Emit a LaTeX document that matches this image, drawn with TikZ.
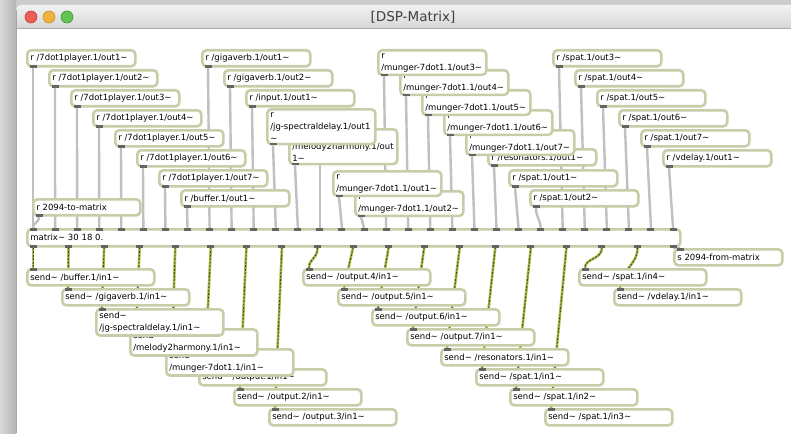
\documentclass[tikz,border=0pt]{standalone}
\usepackage{fontspec}
\setmainfont{DejaVu Sans}

\pgfdeclarelayer{frame}
\pgfdeclarelayer{cords}
\pgfsetlayers{frame,cords,main}

\definecolor{objborder}{RGB}{200,205,168}
\definecolor{nubgray}{RGB}{100,100,100}
\definecolor{cordgray}{RGB}{192,192,192}
\definecolor{sigyellow}{RGB}{165,192,62}

\hyphenpenalty=10000
\exhyphenpenalty=10000

\newcommand\tld{\textasciitilde}
% receive box: node + outlet at bottom left
\newcommand\recv[4][]{%
  \node[obj,#1] (#2) at (#3) {#4};
  \fill[nub] ([xshift=3.5pt]#2.south west) rectangle ++(7pt,2.5pt);}
% send box: node + inlet at top left
\newcommand\sendto[4][]{%
  \node[obj,wide,#1] (#2) at (#3) {#4};
  \fill[nub] ([xshift=3.5pt]#2.north west) rectangle ++(7pt,-2.5pt);}

\begin{document}
\begin{tikzpicture}
    [x=1pt,y=-1pt,
    obj/.style={draw=objborder, line width=2.6pt, fill=white, rounded corners=4pt,
      anchor=north west, inner xsep=3pt, inner ysep=3pt, minimum height=16pt,
      text width=102pt, align=left, font=\fontsize{8.5}{12}\selectfont},
    wide/.style={text width=121pt},
    nub/.style={fill=nubgray},
    cord/.style={draw=cordgray, line width=2.4pt},
    sigcord/.style={draw=sigyellow, line width=2.6pt,
      postaction={draw=black!75, line width=0.9pt, dash pattern=on 2pt off 1.5pt}}]
    \useasboundingbox (0,0) rectangle (791,433);

    % window
    \begin{pgfonlayer}{frame}
    \fill[gray!40] (0,0) rectangle (791,433);
    \shade[left color=gray!30, right color=gray!60] (0,0) rectangle (16,433);
    \fill[white] (16,28) rectangle (791,433);
    \shade[top color=gray!10, bottom color=gray!32]
      (16,28) [rounded corners=5pt] -- (16,5) -- (800,5) [sharp corners] -- (800,28) -- cycle;
    \draw[gray!65, line width=0.8pt] (16,28) -- (791,28);
    \draw[gray!70, line width=0.8pt] (16,10) -- (16,433);
    \end{pgfonlayer}
    \filldraw[fill={rgb,255:red,236;green,95;blue,87}, draw={rgb,255:red,200;green,60;blue,55}, line width=0.6pt] (31,17) circle (6pt);
    \filldraw[fill={rgb,255:red,240;green,180;blue,60}, draw={rgb,255:red,200;green,140;blue,40}, line width=0.6pt] (49,17) circle (6pt);
    \filldraw[fill={rgb,255:red,98;green,196;blue,80}, draw={rgb,255:red,60;green,150;blue,50}, line width=0.6pt] (67,17) circle (6pt);
    \node[font=\fontsize{13.5}{15}\selectfont, text=black!75] (title) at (413,17) {[DSP-Matrix]};

    % receive objects
    \recv{pl1}{26,49}{r /7dot1player.1/out1\tld}
    \recv{pl2}{48,69}{r /7dot1player.1/out2\tld}
    \recv{pl3}{70,89}{r /7dot1player.1/out3\tld}
    \recv{pl4}{92,109}{r /7dot1player.1/out4\tld}
    \recv{pl5}{114,129}{r /7dot1player.1/out5\tld}
    \recv{pl6}{136,149}{r /7dot1player.1/out6\tld}
    \recv{pl7}{158,169}{r /7dot1player.1/out7\tld}
    \recv{buf}{180,189}{r /buffer.1/out1\tld}
    \recv[text width=101pt]{ctl}{32,198}{r 2094-to-matrix}
    \recv{gv1}{201,49}{r /gigaverb.1/out1\tld}
    \recv{gv2}{223,69}{r /gigaverb.1/out2\tld}
    \recv{inp}{245,89}{r /input.1/out1\tld}
    \recv{mel}{288,128}{r\\/melody2harmony.1/out\\1\tld}
    \recv{jg}{266,108}{r\\/jg-spectraldelay.1/out1\\\tld}
    \recv{mu2}{354,190}{r\\/munger-7dot1.1/out2\tld}
    \recv{mu1}{332,170}{r\\/munger-7dot1.1/out1\tld}
    \recv{res}{487,148}{r /resonators.1/out1\tld}
    \recv{mu7}{465,129}{r\\/munger-7dot1.1/out7\tld}
    \recv{mu6}{443,109}{r\\/munger-7dot1.1/out6\tld}
    \recv{mu5}{421,89}{r\\/munger-7dot1.1/out5\tld}
    \recv{mu4}{399,69}{r\\/munger-7dot1.1/out4\tld}
    \recv{mu3}{377,49}{r\\/munger-7dot1.1/out3\tld}
    \recv{sp3}{552,49}{r /spat.1/out3\tld}
    \recv{sp4}{574,69}{r /spat.1/out4\tld}
    \recv{sp5}{596,89}{r /spat.1/out5\tld}
    \recv{sp6}{618,109}{r /spat.1/out6\tld}
    \recv{sp7}{640,129}{r /spat.1/out7\tld}
    \recv{vd}{662,149}{r /vdelay.1/out1\tld}
    \recv{sp1}{508,169}{r /spat.1/out1\tld}
    \recv{sp2}{529,189}{r /spat.1/out2\tld}

    % the matrix
    \node[obj, text width=647pt, minimum height=17pt] (mx) at (26,228) {matrix\tld{} 30 18 0.};
    \foreach \i in {0,...,29} {
      \coordinate (in\i) at ([xshift={7pt+22.07pt*\i}]mx.north west);
      \fill[nub] ([xshift=-3.5pt]in\i) rectangle ++(7pt,-2.5pt);
    }
    \foreach \j in {0,...,18} {
      \coordinate (out\j) at ([xshift={7pt+35.56pt*\j}]mx.south west);
      \fill[nub] ([xshift=-3.5pt]out\j) rectangle ++(7pt,2.5pt);
    }

    % send objects
    \sendto{so3}{268,408}{send\tld{} /output.3/in1\tld}
    \sendto{so2}{233,388}{send\tld{} /output.2/in1\tld}
    \sendto{so1}{198,368}{send\tld{} /output.1/in1\tld}
    \sendto{smu}{165,348}{send\tld\\/munger-7dot1.1/in1\tld}
    \sendto{smel}{129,328}{send\tld\\/melody2harmony.1/in1\tld}
    \sendto{sjg}{95,308}{send\tld\\/jg-spectraldelay.1/in1\tld}
    \sendto{sgv}{61,288}{send\tld{} /gigaverb.1/in1\tld}
    \sendto{sbuf}{26,268}{send\tld{} /buffer.1/in1\tld}
    \sendto{ssp3}{544,408}{send\tld{} /spat.1/in3\tld}
    \sendto{ssp2}{509,388}{send\tld{} /spat.1/in2\tld}
    \sendto{ssp1}{475,368}{send\tld{} /spat.1/in1\tld}
    \sendto{sres}{440,348}{send\tld{} /resonators.1/in1\tld}
    \sendto{so7}{406,328}{send\tld{} /output.7/in1\tld}
    \sendto{so6}{371,308}{send\tld{} /output.6/in1\tld}
    \sendto{so5}{337,288}{send\tld{} /output.5/in1\tld}
    \sendto{so4}{302,268}{send\tld{} /output.4/in1\tld}
    \sendto{svd}{613,288}{send\tld{} /vdelay.1/in1\tld}
    \sendto{ssp4}{578,268}{send\tld{} /spat.1/in4\tld}
    \sendto[text width=102pt]{back}{673,248}{s 2094-from-matrix}

    % patch cords
    \begin{pgfonlayer}{cords}
    \foreach \s/\k in {pl1/0,pl2/1,pl3/2,pl4/3,pl5/4,pl6/5,pl7/6,buf/7,gv1/8,gv2/9,
        inp/10,jg/11,mel/12,mu1/14,mu2/15,mu3/16,mu4/17,mu5/18,mu6/19,mu7/20,res/21,
        sp1/22,sp3/24,sp4/25,sp5/26,sp6/27,sp7/28,vd/29}
      \draw[cord] ([xshift=7pt]\s.south west) -- (in\k);
    \draw[cord] (mel.south -| in13) -- (in13);
    \draw[cord] ([xshift=7pt]sp2.south west) .. controls +(0,10) and +(0,-8) .. (in23);
    \draw[cord] ([xshift=7pt]ctl.south west) .. controls +(0,7) and +(0,-6) .. (in0);
    \draw[cord] (out18) -- ([xshift=7pt]back.north west);
    \foreach \j/\t in {0/sbuf,1/sgv,2/sjg,3/smel,4/smu,5/so1,6/so2,7/so3,9/so5,
        10/so6,11/so7,12/sres,13/ssp1,14/ssp2,15/ssp3}
      \draw[sigcord] (out\j) -- ([xshift=7pt]\t.north west);
    \draw[sigcord] (out8) .. controls +(0,12) and +(0,-10) .. ([xshift=7pt]so4.north west);
    \draw[sigcord] (out16) .. controls +(0,12) and +(0,-10) .. ([xshift=7pt]ssp4.north west);
    \draw[sigcord] (out17) .. controls +(0,18) and +(0,-18) .. ([xshift=7pt]svd.north west);
    \end{pgfonlayer}
\end{tikzpicture}
\end{document}
